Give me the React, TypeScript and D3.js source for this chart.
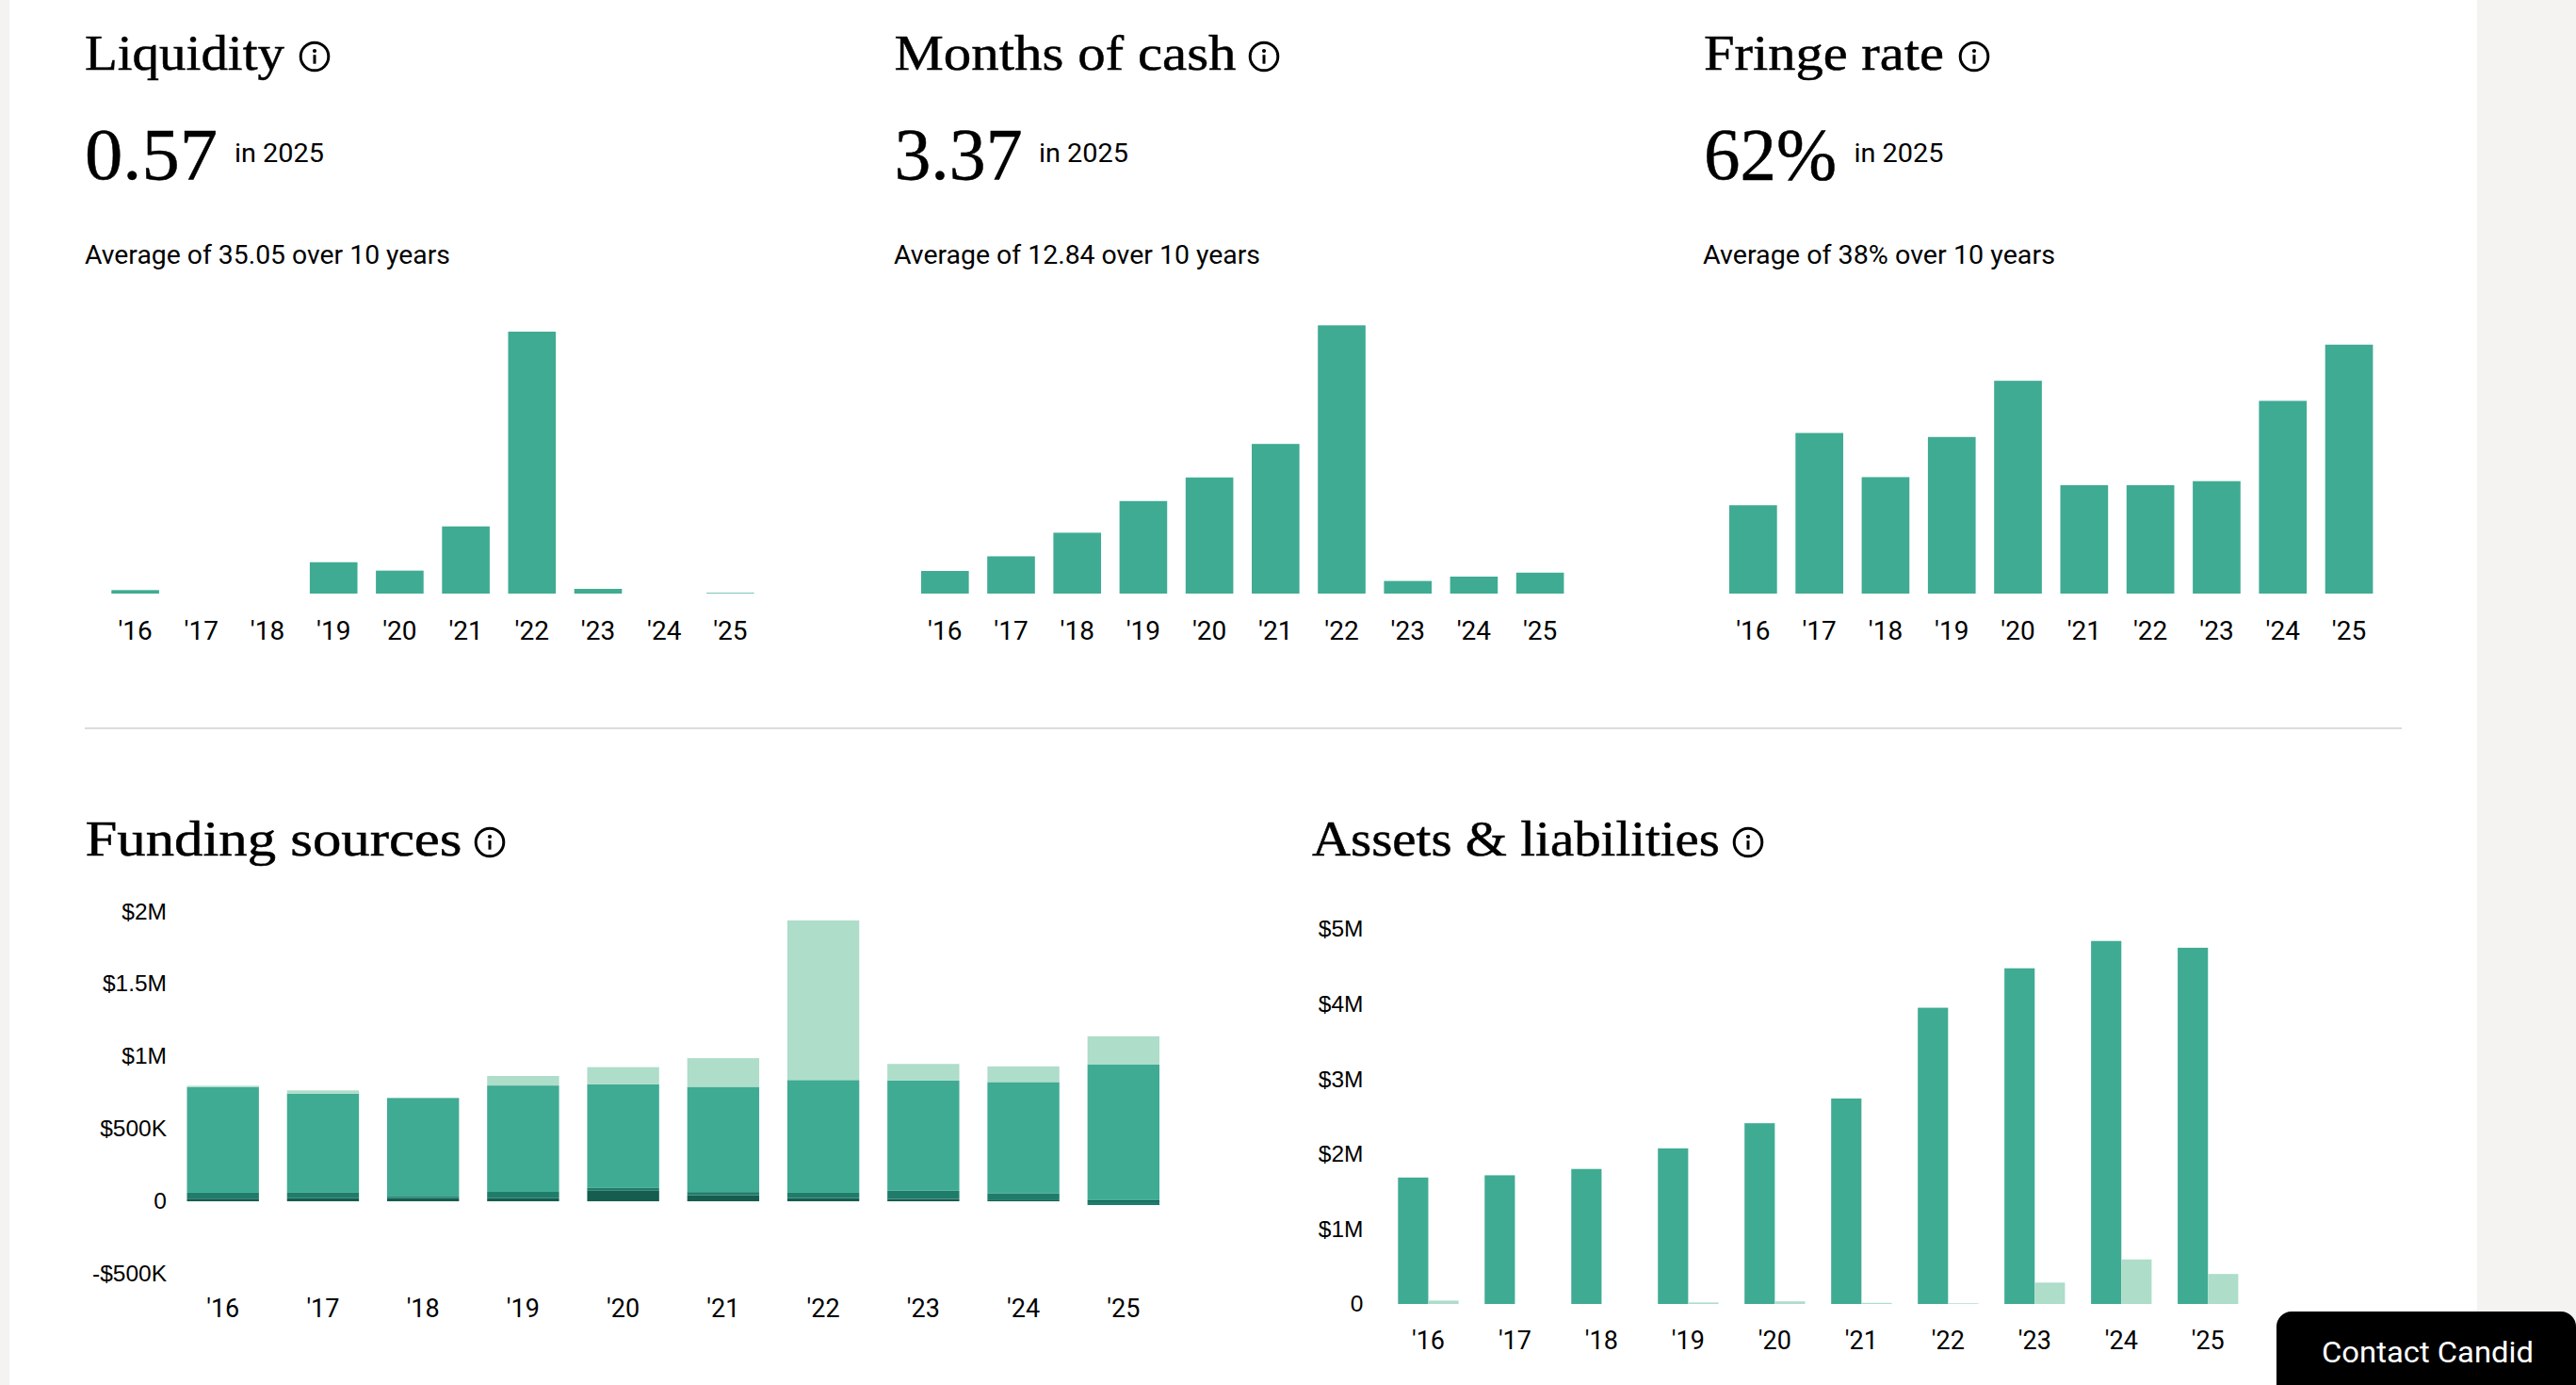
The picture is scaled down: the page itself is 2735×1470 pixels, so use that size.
// App.tsx
import React, { useEffect, useRef } from 'react';
import * as d3 from 'd3';

const years = ["'16", "'17", "'18", "'19", "'20", "'21", "'22", "'23", "'24", "'25"];

const liquidity = [3.1, 0, 0, 28, 20.5, 60, 234, 4.2, 0, 0.57];
const monthsOfCash = [3.64, 6.0, 9.8, 14.9, 18.7, 24.1, 43.2, 2.03, 2.73, 3.37];
const fringeRate = [22, 40, 29, 39, 53, 27, 27, 28, 48, 62];

// stacked from the baseline up, in $K
const fundingA = [18, 21, 21, 21, 76, 42, 22, 16, 7, 7];
const fundingB = [41, 42, 11, 44, 16, 22, 37, 57, 49, -26];
const fundingC = [731, 680, 682, 735, 717, 727, 779, 761, 768, 937];
const fundingD = [8, 23, 1, 66, 118, 198, 1103, 115, 108, 196];
const fundingTicks = [-500, 0, 500, 1000, 1500, 2000];
const fundingTickLabels = ['-$500K', '0', '$500K', '$1M', '$1.5M', '$2M'];

// $M
const assets = [1.686, 1.716, 1.8, 2.075, 2.41, 2.74, 3.95, 4.476, 4.84, 4.75];
const liabilities = [0.045, 0, 0, 0.02, 0.035, 0.015, 0.009, 0.285, 0.594, 0.4];
const assetTicks = [0, 1, 2, 3, 4, 5];
const assetTickLabels = ['0', '$1M', '$2M', '$3M', '$4M', '$5M'];

const GREEN = '#3fab93';
const LIGHT = '#aeddca';
const DARK = '#1f7c6b';
const DARKEST = '#155d4f';
const SERIF = '"Liberation Serif", serif';
const SANS = 'Roboto, sans-serif';
const AXIS_SANS = '"Liberation Sans", sans-serif';

type Sel = d3.Selection<SVGGElement, unknown, null, undefined>;

function addText(g: Sel, str: string, x: number, y: number, size: number, family: string, len?: number, fill = '#000') {
    const t = g.append('text')
        .attr('x', x).attr('y', y)
        .attr('font-family', family).attr('font-size', size)
        .attr('fill', fill)
        .text(str);
    if (len) t.attr('textLength', len).attr('lengthAdjust', 'spacingAndGlyphs');
    return t;
}

// the reference serif is a bit heavier than Liberation Serif
function addHeading(g: Sel, str: string, x: number, y: number, size: number, len: number) {
    return addText(g, str, x, y, size, SERIF, len).attr('stroke', '#000').attr('stroke-width', 0.5);
}

function infoIcon(g: Sel, cx: number, cy: number) {
    const icon = g.append('g').attr('transform', `translate(${cx},${cy})`);
    icon.append('circle').attr('r', 14.8).attr('fill', 'none').attr('stroke', '#000').attr('stroke-width', 3);
    icon.append('circle').attr('cy', -6).attr('r', 2.1).attr('fill', '#000');
    icon.append('rect').attr('x', -1.5).attr('y', -1.8).attr('width', 3).attr('height', 9.5).attr('fill', '#000');
}

// x tick labels sit on a fixed baseline, no line or ticks
function xLabels(g: Sel, x: d3.ScaleBand<string>, baseline: number, size: number) {
    const axis = g.append('g')
        .attr('transform', `translate(0,${baseline})`)
        .call(d3.axisBottom(x).tickSize(0));
    axis.select('.domain').remove();
    axis.selectAll('text')
        .attr('y', 0).attr('dy', 0)
        .attr('font-family', SANS).attr('font-size', size).attr('fill', '#000');
}

function yLabels(g: Sel, y: d3.ScaleLinear<number, number>, right: number, shift: number, ticks: number[], labels: string[], size: number) {
    const axis = g.append('g')
        .attr('transform', `translate(${right},${shift})`)
        .call(d3.axisLeft(y).tickValues(ticks).tickSize(0).tickPadding(0)
            .tickFormat((_, i) => labels[i]));
    axis.select('.domain').remove();
    axis.selectAll('text')
        .attr('font-family', AXIS_SANS).attr('font-size', size).attr('fill', '#000');
}

interface Kpi {
    title: string; titleX: number; titleLen: number; iconX: number;
    value: string; valueLen: number; inX: number;
    avg: string; avgX: number; avgLen: number;
    data: number[]; barX: number; step: number;
}

const kpis: Kpi[] = [
    { title: 'Liquidity', titleX: 90, titleLen: 212, iconX: 334, value: '0.57', valueLen: 141, inX: 249,
      avg: 'Average of 35.05 over 10 years', avgX: 90, avgLen: 388, data: liquidity, barX: 118.3, step: 70.2 },
    { title: 'Months of cash', titleX: 949.5, titleLen: 363, iconX: 1342, value: '3.37', valueLen: 136, inX: 1103,
      avg: 'Average of 12.84 over 10 years', avgX: 949, avgLen: 389, data: monthsOfCash, barX: 978, step: 70.2 },
    { title: 'Fringe rate', titleX: 1809, titleLen: 255, iconX: 2096, value: '62%', valueLen: 141, inX: 1968.5,
      avg: 'Average of 38% over 10 years', avgX: 1808, avgLen: 374, data: fringeRate, barX: 1836, step: 70.3 },
];
const kpiPeak = [278, 284.7, 264.2];

function drawKpi(g: Sel, k: Kpi, peak: number) {
    addHeading(g, k.title, k.titleX, 73.5, 52, k.titleLen);
    infoIcon(g, k.iconX, 60);
    addHeading(g, k.value, k.titleX, 189.5, 78, k.valueLen);
    addText(g, 'in 2025', k.inX, 172, 28, SANS, 95);
    addText(g, k.avg, k.avgX, 280, 28, SANS, k.avgLen);

    const barW = k.step * 0.721;
    const x = d3.scaleBand<string>().domain(years)
        .range([k.barX, k.barX + k.step * 9 + barW]).paddingInner(0.279);
    const y = d3.scaleLinear().domain([0, d3.max(k.data) as number]).range([630, 630 - peak]);
    g.append('g').selectAll('rect').data(k.data).join('rect')
        .attr('x', (_, i) => x(years[i]) as number)
        .attr('width', x.bandwidth())
        .attr('y', d => y(d))
        .attr('height', d => y(0) - y(d))
        .attr('fill', GREEN);
    xLabels(g, x, 678.5, 28);
}

function drawFunding(g: Sel) {
    addHeading(g, 'Funding sources', 90.5, 907.5, 52, 400);
    infoIcon(g, 520, 894);

    const x = d3.scaleBand<string>().domain(years).range([198.5, 1231]).paddingInner(0.281);
    const y = d3.scaleLinear().domain([-500, 2000]).range([1351.8, 967.8]);

    const keys = ['a', 'b', 'c', 'd'];
    const colors = [DARKEST, DARK, GREEN, LIGHT];
    const rows = years.map((yr, i) => ({ yr, a: fundingA[i], b: fundingB[i], c: fundingC[i], d: fundingD[i] }));
    const layers = d3.stack<any>().keys(keys).offset(d3.stackOffsetDiverging)(rows);

    g.append('g').selectAll('g').data(layers).join('g')
        .attr('fill', (_, i) => colors[i])
        .selectAll('rect').data(d => d).join('rect')
        .attr('x', d => x(d.data.yr) as number)
        .attr('width', x.bandwidth())
        .attr('y', d => y(Math.max(d[0], d[1])))
        .attr('height', d => Math.abs(y(d[0]) - y(d[1])));

    yLabels(g, y, 177, -0.5, fundingTicks, fundingTickLabels, 24.5);
    xLabels(g, x, 1397.5, 27);
}

function drawAssets(g: Sel) {
    addHeading(g, 'Assets & liabilities', 1393, 907.5, 52, 433);
    infoIcon(g, 1856, 894);

    const x0 = d3.scaleBand<string>().domain(years).range([1484.3, 2376.4]).paddingInner(0.301);
    const x1 = d3.scaleBand<string>().domain(['assets', 'liabilities']).range([0, x0.bandwidth()]);
    const y = d3.scaleLinear().domain([0, 5]).range([1384, 986]);

    const bars = (vals: number[], key: string, color: string) =>
        g.append('g').selectAll('rect').data(vals).join('rect')
            .attr('x', (_, i) => (x0(years[i]) as number) + (x1(key) as number))
            .attr('width', x1.bandwidth())
            .attr('y', d => y(d))
            .attr('height', d => y(0) - y(d))
            .attr('fill', color);
    bars(assets, 'assets', GREEN);
    bars(liabilities, 'liabilities', LIGHT);

    yLabels(g, y, 1447.5, 0, assetTicks, assetTickLabels, 24.5);
    xLabels(g, x0, 1431.5, 27);
}

export default function App() {
    const gRef = useRef<SVGGElement>(null);

    useEffect(() => {
        if (!gRef.current) return;
        const g = d3.select(gRef.current) as unknown as Sel;
        g.selectAll('*').remove();

        kpis.forEach((k, i) => drawKpi(g, k, kpiPeak[i]));
        drawFunding(g);
        drawAssets(g);

        // Contact button, top corners rounded
        g.append('path')
            .attr('d', 'M2417 1470V1408a16 16 0 0 1 16-16H2719a16 16 0 0 1 16 16V1470Z')
            .attr('fill', '#000');
        addText(g, 'Contact Candid', 2465, 1446, 32, SANS, 225, '#fff');
    }, []);

    return (
        <svg width={2735} height={1470} style={{ position: 'fixed', left: 0, top: 0, display: 'block' }}>
            <rect width={2735} height={1470} fill="#f4f3f1" />
            <rect x={10} width={2620} height={1470} fill="#fff" />
            <line x1={90} x2={2550} y1={773} y2={773} stroke="#dcdcdc" strokeWidth={2} />
            <g ref={gRef} />
        </svg>
    );
}
